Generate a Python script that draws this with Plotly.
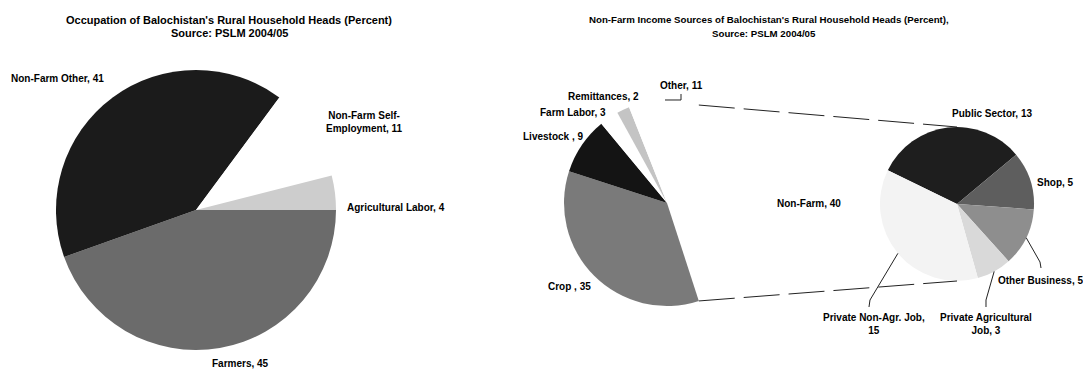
import math
import plotly.graph_objects as go

W, H = 1083, 369

# --- Occupation of rural household heads (left pie) ---
occ_labels = ["Farmers", "Non-Farm Other", "Non-Farm Self-Employment", "Agricultural Labor"]
occ_values = [45, 41, 11, 4]
occ_text = ["Farmers, {}", "Non-Farm Other, {}", "Non-Farm Self-<br>Employment, {}", "Agricultural Labor, {}"]
occ_colors = ["#6b6b6b", "#1b1b1b", "#ffffff", "#cdcdcd"]

# --- Income sources (main pie of the pie-of-pie) ---
inc_labels = ["Non-Farm", "Crop", "Livestock", "Farm Labor", "Remittances", "Other"]
inc_values = [40, 35, 9, 3, 2, 11]
inc_text = ["Non-Farm, {}", "Crop , {}", "Livestock , {}", "Farm Labor, {}", "Remittances, {}", "Other, {}"]
inc_colors = ["#ffffff", "#7a7a7a", "#141414", "#ffffff", "#c4c4c4", "#ffffff"]

# --- Breakdown of the non-farm share (secondary pie) ---
nf_labels = ["Public Sector", "Shop", "Other Business", "Private Agricultural Job", "Private Non-Agr. Job"]
nf_values = [13, 5, 5, 3, 15]
nf_text = ["Public Sector, {}", "Shop, {}", "Other Business, {}", "Private Agricultural<br>Job, {}",
           "Private Non-Agr. Job,<br>{}"]
nf_colors = ["#1e1e1e", "#5e5e5e", "#8e8e8e", "#d9d9d9", "#f3f3f3"]

# pie geometry in pixels: centre x, centre y, radius, rotation
LEFT = dict(cx=196, cy=210, r=140, rot=90)
MAIN = dict(cx=667, cy=203, r=103, rot=18)
SUB = dict(cx=957, cy=204, r=77, rot=-64)

# label anchor points in pixels (centre of text block)
occ_pos = [(240, 363), (57, 78), (364, 122), (396, 207)]
inc_pos = [(809, 203), (569, 286), (553, 136), (573, 112), (603, 96), (681, 85)]
nf_pos = [(992, 113), (1055, 183), (1040, 280), (986, 324), (874, 324)]

FAMILY = "Liberation Sans, Arial, sans-serif"
FONT = dict(family=FAMILY, size=10, color="#000000", weight="bold")


def px(x):
    return x / W


def py(y):
    return 1 - y / H


def domain(g):
    return dict(x=[px(g["cx"] - g["r"]), px(g["cx"] + g["r"])],
                y=[py(g["cy"] + g["r"]), py(g["cy"] - g["r"])])


def pie(labels, values, colors, g):
    return go.Pie(labels=labels, values=values, sort=False, direction="clockwise",
                  rotation=g["rot"], domain=domain(g), textinfo="none", hoverinfo="label+value",
                  marker=dict(colors=colors, line=dict(width=0)), showlegend=False)


def edge_point(g, math_deg, rr=None):
    rr = g["r"] if rr is None else rr
    a = math.radians(math_deg)
    return g["cx"] + rr * math.cos(a), g["cy"] - rr * math.sin(a)


def mid_angles(values, g):
    total = sum(values)
    start = 90 - g["rot"]
    out, cum = [], 0
    for v in values:
        out.append(start - (cum + v / 2) / total * 360)
        cum += v
    return out


fig = go.Figure()
fig.add_trace(pie(occ_labels, occ_values, occ_colors, LEFT))
fig.add_trace(pie(inc_labels, inc_values, inc_colors, MAIN))
fig.add_trace(pie(nf_labels, nf_values, nf_colors, SUB))

annotations = []


def add_label(text, pos, font=FONT, xanchor="center"):
    annotations.append(dict(text=text, x=px(pos[0]), y=py(pos[1]), xref="paper", yref="paper",
                            xanchor=xanchor, yanchor="middle", showarrow=False, font=font,
                            align="center"))


for t, v, p in zip(occ_text, occ_values, occ_pos):
    add_label(t.format(v), p)
for t, v, p in zip(inc_text, inc_values, inc_pos):
    add_label(t.format(v), p)
for t, v, p in zip(nf_text, nf_values, nf_pos):
    add_label(t.format(v), p)

# chart titles
LEFT_TITLE_FONT = dict(FONT, size=11)
RIGHT_TITLE_FONT = dict(FONT, size=9.7)
add_label("Occupation of Balochistan's Rural Household Heads (Percent)", (229, 20), LEFT_TITLE_FONT)
add_label("Source: PSLM 2004/05", (229, 33), LEFT_TITLE_FONT)
add_label("Non-Farm Income Sources of Balochistan's Rural Household Heads (Percent),", (769, 20),
          RIGHT_TITLE_FONT)
add_label("Source: PSLM 2004/05", (764, 33), RIGHT_TITLE_FONT)

shapes = []

# connector lines from the non-farm slice edges to the secondary pie
half = inc_values[0] / sum(inc_values) * 360 / 2
start_angle = 90 - MAIN["rot"]
top_edge = edge_point(MAIN, start_angle)
bot_edge = edge_point(MAIN, start_angle - 2 * half)
for (x0, y0), (x1, y1) in [(top_edge, (SUB["cx"], SUB["cy"] - SUB["r"])),
                           (bot_edge, (SUB["cx"], SUB["cy"] + SUB["r"]))]:
    shapes.append(dict(type="line", xref="paper", yref="paper", x0=px(x0), y0=py(y0),
                       x1=px(x1), y1=py(y1), line=dict(color="#222222", width=1, dash="36px,9px")))


def leader(points):
    path = "M " + " L ".join(f"{px(x):.5f},{py(y):.5f}" for x, y in points)
    shapes.append(dict(type="path", xref="paper", yref="paper", path=path,
                       line=dict(color="#222222", width=1)))


# leader lines for the small secondary slices
sub_mid = mid_angles(nf_values, SUB)
ob_tip = edge_point(SUB, sub_mid[2])
pa_tip = edge_point(SUB, sub_mid[3])
pn_tip = edge_point(SUB, sub_mid[4])
leader([ob_tip, (1040, 262), (1041, 268)])
leader([pa_tip, (986, 300), (986, 307)])
leader([pn_tip, (870, 300), (869, 307)])
# leader for the "Other" slice of the main pie
leader([(665, 100), (681, 100), (681, 94)])

fig.update_layout(width=W, height=H, margin=dict(l=0, r=0, t=0, b=0),
                  paper_bgcolor="#ffffff", plot_bgcolor="#ffffff",
                  annotations=annotations, shapes=shapes)

fig.write_html("out.html")
